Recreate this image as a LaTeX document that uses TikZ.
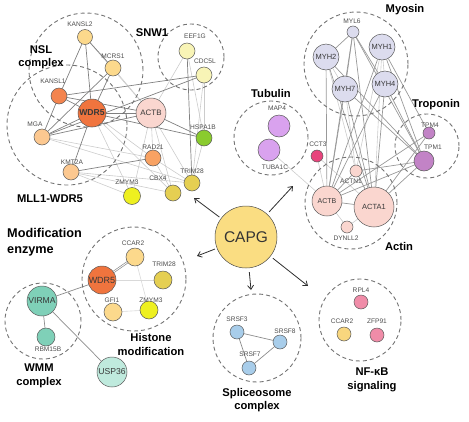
\documentclass[tikz,border=0pt]{standalone}
\usepackage{fontspec}
\setmainfont{Liberation Sans}
\usetikzlibrary{arrows.meta,backgrounds}
\definecolor{cOrgD}{HTML}{F0743E}
\definecolor{cOrg}{HTML}{F3844E}
\definecolor{cPeach}{HTML}{FCC890}
\definecolor{cPaleOr}{HTML}{FCD98C}
\definecolor{cPink}{HTML}{FAD6CF}
\definecolor{cRad}{HTML}{F8A263}
\definecolor{cYel}{HTML}{EEF020}
\definecolor{cOlive}{HTML}{E5CF52}
\definecolor{cGreen}{HTML}{8ACB2E}
\definecolor{cPaleY}{HTML}{F8F4B6}
\definecolor{cLav}{HTML}{DCDCEE}
\definecolor{cTpm}{HTML}{C283C6}
\definecolor{cLilac}{HTML}{D9A2EE}
\definecolor{cCct}{HTML}{E8447C}
\definecolor{cCapg}{HTML}{FADD82}
\definecolor{cTeal}{HTML}{7FD0B8}
\definecolor{cMint}{HTML}{BFEADD}
\definecolor{cBlue}{HTML}{A8CDEA}
\definecolor{cRose}{HTML}{F08CA8}
\definecolor{cCcar}{HTML}{F8D67E}
\tikzset{
  pn/.style={circle, draw=black!65, line width=0.5pt, inner sep=0pt, minimum size=#1},
  grp/.style={circle, draw=black!55, dashed, dash pattern=on 4pt off 3pt, line width=0.9pt, inner sep=0pt, minimum size=#1},
  lbl/.style={font=\fontsize{6.6}{7}\selectfont, text=black!70, inner sep=0pt},
  intxt/.style={font=\fontsize{#1}{#1}\selectfont, text=black!78},
  ttl/.style={font=\bfseries\fontsize{11.2}{13.5}\selectfont, align=center, inner sep=0pt},
  se/.style={draw=black!50, line width=0.7pt},
  le/.style={draw=black!20, line width=0.6pt},
  arr/.style={draw=black!82, line width=0.8pt, -{Straight Barb[length=4pt,width=6pt]}}
}
\begin{document}
\begin{tikzpicture}[x=1pt,y=-1pt]
\useasboundingbox (0,0) rectangle (469,421);
% group circles
\node[grp=114] (g-nsl) at (86,70) {};
\node[grp=120] (g-mll) at (67,125) {};
\node[grp=66] (g-snw) at (191,57) {};
\node[grp=104] (g-myo) at (356,64) {};
\node[grp=64] (g-tro) at (427,146) {};
\node[grp=74] (g-tub) at (271,138) {};
\node[grp=92] (g-act) at (351,203) {};
\node[grp=104] (g-his) at (134,279) {};
\node[grp=76] (g-wmm) at (43,321) {};
\node[grp=88] (g-spl) at (257,338) {};
\node[grp=82] (g-nfk) at (360,320) {};
% titles
\node[ttl] (t-nsl) at (41,57) {NSL\\complex};
\node[ttl] (t-snw) at (152,33) {SNW1};
\node[ttl] (t-mll) at (50,199) {MLL1-WDR5};
\node[ttl, align=left, anchor=west, font=\bfseries\fontsize{12.7}{16}\selectfont] (t-mod) at (7,242) {Modification\\enzyme};
\node[ttl] (t-myo) at (405,10) {Myosin};
\node[ttl] (t-tro) at (436,105) {Troponin};
\node[ttl] (t-tub) at (271,93) {Tubulin};
\node[ttl] (t-act) at (399,246) {Actin};
\node[ttl, font=\bfseries\fontsize{11.2}{14}\selectfont] (t-his) at (151,344) {Histone\\modification};
\node[ttl, font=\bfseries\fontsize{11.2}{14}\selectfont] (t-wmm) at (39,376) {WMM\\complex};
\node[ttl] (t-spl) at (257,400) {Spliceosome\\complex};
\node[ttl] (t-nfk) at (372,380) {NF-κB\\signaling};
% top-left cluster nodes
\node[pn=15, fill=cPaleOr] (kansl2) at (85,37) {};
\node[pn=16, fill=cPaleOr] (mcrs1) at (113,68) {};
\node[pn=16, fill=cOrg] (kansl1) at (59,96) {};
\node[pn=28, fill=cOrgD, intxt=8.6] (wdr5a) at (92,113) {\bfseries WDR5};
\node[pn=30, fill=cPink, intxt=7.9] (actb1) at (151,113) {ACTB};
\node[pn=16, fill=cPeach] (mga) at (42,137) {};
\node[pn=16, fill=cPeach] (kmt2a) at (71,172) {};
\node[pn=17, fill=cYel] (zmym3a) at (132,196) {};
\node[pn=16, fill=cRad] (rad21) at (153,158) {};
\node[pn=16, fill=cOlive] (cbx4) at (173,193) {};
\node[pn=16, fill=cOlive] (trim28a) at (192,183) {};
\node[pn=16, fill=cGreen] (hspa1b) at (204,138) {};
\node[pn=16, fill=cPaleY] (eef1g) at (187,51) {};
\node[pn=16, fill=cPaleY] (cdc5l) at (204,75) {};
\node[lbl] (l-kansl2) at (80,24) {KANSL2};
\node[lbl] (l-mcrs1) at (113,56) {MCRS1};
\node[lbl] (l-kansl1) at (53,81) {KANSL1};
\node[lbl] (l-mga) at (35,124) {MGA};
\node[lbl] (l-kmt2a) at (72,162) {KMT2A};
\node[lbl] (l-zmym3a) at (127,182) {ZMYM3};
\node[lbl] (l-rad21) at (153,147) {RAD21};
\node[lbl] (l-cbx4) at (158,178) {CBX4};
\node[lbl] (l-trim28a) at (192,171) {TRIM28};
\node[lbl] (l-hspa1b) at (203,127) {HSPA1B};
\node[lbl] (l-eef1g) at (195,36) {EEF1G};
\node[lbl] (l-cdc5l) at (205,61) {CDC5L};
% top-right nodes
\node[pn=12, fill=cLav] (myl6) at (353,32) {};
\node[pn=26, fill=cLav, intxt=7.5] (myh1) at (382,47) {MYH1};
\node[pn=26, fill=cLav, intxt=7.5] (myh2) at (326,57) {MYH2};
\node[pn=26, fill=cLav, intxt=7.5] (myh7) at (345,89) {MYH7};
\node[pn=26, fill=cLav, intxt=7.5] (myh4) at (385,84) {MYH4};
\node[pn=12, fill=cTpm] (tpm4) at (429,133) {};
\node[pn=20, fill=cTpm] (tpm1) at (424,161) {};
\node[pn=22, fill=cLilac] (map4) at (279,126) {};
\node[pn=22, fill=cLilac] (tuba1c) at (269,150) {};
\node[pn=12, fill=cCct] (cct3) at (317,156) {};
\node[pn=12, fill=cPink] (actn1) at (356,171) {};
\node[pn=30, fill=cPink, intxt=7] (actb2) at (327,201) {ACTB};
\node[pn=40, fill=cPink, intxt=7.5] (acta1) at (374,207) {ACTA1};
\node[pn=12, fill=cPink] (dynll2) at (347,227) {};
\node[lbl] (l-myl6) at (352,21) {MYL6};
\node[lbl] (l-tpm4) at (430,125) {TPM4};
\node[lbl] (l-tpm1) at (433,147) {TPM1};
\node[lbl] (l-map4) at (277,108) {MAP4};
\node[lbl] (l-tuba1c) at (275,167) {TUBA1C};
\node[lbl] (l-cct3) at (318,144) {CCT3};
\node[lbl] (l-actn1) at (351,181) {ACTN1};
\node[lbl] (l-dynll2) at (346,238) {DYNLL2};
% CAPG
\node[pn=62, fill=cCapg, draw=black!70, font=\fontsize{15.5}{16}\selectfont, text=black!80] (capg) at (246,237) {CAPG};
% bottom-left nodes
\node[pn=18, fill=cPaleOr] (ccar2a) at (135,257) {};
\node[pn=18, fill=cOlive] (trim28b) at (163,280) {};
\node[pn=28, fill=cOrgD, intxt=9] (wdr5b) at (102,280) {WDR5};
\node[pn=18, fill=cPaleOr] (gfi1) at (113,312) {};
\node[pn=18, fill=cYel] (zmym3b) at (149,310) {};
\node[pn=30, fill=cTeal, intxt=8.6] (virma) at (42,301) {VIRMA};
\node[pn=18, fill=cTeal] (rbm15b) at (46,337) {};
\node[pn=30, fill=cMint, intxt=8.6] (usp36) at (112,372) {USP36};
\node[lbl] (l-ccar2a) at (133,243) {CCAR2};
\node[lbl] (l-trim28b) at (164,264) {TRIM28};
\node[lbl] (l-gfi1) at (112,300) {GFI1};
\node[lbl] (l-zmym3b) at (151,300) {ZMYM3};
\node[lbl] (l-rbm15b) at (48,349) {RBM15B};
% spliceosome
\node[pn=14, fill=cBlue] (srsf3) at (237,332) {};
\node[pn=14, fill=cBlue] (srsf8) at (280,342) {};
\node[pn=14, fill=cBlue] (srsf7) at (249,368) {};
\node[lbl] (l-srsf3) at (237,319) {SRSF3};
\node[lbl] (l-srsf8) at (285,331) {SRSF8};
\node[lbl] (l-srsf7) at (250,354) {SRSF7};
% NF-kB
\node[pn=14, fill=cRose] (rpl4) at (361,302) {};
\node[pn=14, fill=cCcar] (ccar2b) at (344,334) {};
\node[pn=14, fill=cRose] (zfp91) at (377,335) {};
\node[lbl] (l-rpl4) at (361,290) {RPL4};
\node[lbl] (l-ccar2b) at (342,321) {CCAR2};
\node[lbl] (l-zfp91) at (377,321) {ZFP91};
% arrow end points
\coordinate (a-tl) at (194,198);
\coordinate (a-ml) at (197,256);
\coordinate (a-tr) at (293,186);
\coordinate (a-dn) at (251,290);
\coordinate (a-dr) at (308,286);
\begin{pgfonlayer}{background}
% light edges top-left
\foreach \a/\b in {actb1/rad21, actb1/trim28a, actb1/cbx4, actb1/zmym3a, wdr5a/rad21, wdr5a/cbx4, kmt2a/cbx4, mga/rad21, rad21/trim28a, hspa1b/trim28a, cdc5l/hspa1b, eef1g/actb1, cdc5l/trim28a, zmym3a/kmt2a, wdr5a/zmym3a, kansl2/actb1, mcrs1/actb1, rad21/cbx4, eef1g/hspa1b, mga/trim28a, kmt2a/trim28a}
  \draw[le] (\a) -- (\b);
% strong edges top-left
\foreach \a/\b in {kansl2/kansl1, kansl2/wdr5a, kansl2/mcrs1, mcrs1/wdr5a, mcrs1/mga, kansl1/mga, kansl1/wdr5a, wdr5a/mga, wdr5a/kmt2a, mga/actb1, kansl1/actb1, kansl1/cdc5l, mga/cdc5l, wdr5a/actb1, wdr5a/hspa1b, actb1/hspa1b, kmt2a/rad21, eef1g/trim28a}
  \draw[se] (\a) -- (\b);
% light edges top-right
\foreach \a/\b in {cct3/actb2, tuba1c/actb2, cct3/acta1, myh1/acta1, myh2/myh7, myh1/myh4, dynll2/actb2, dynll2/acta1, myh1/actn1, myh2/actn1, myh7/actn1}
  \draw[le] (\a) -- (\b);
% strong edges top-right
\foreach \a/\b in {myl6/myh2, myl6/myh7, myl6/myh4, myl6/acta1, myl6/tpm1, myl6/actb2, myh2/actb2, myh2/acta1, myh2/tpm1, myh1/tpm1, myh1/actb2, myh1/tpm4, myh7/actb2, myh7/acta1, myh7/tpm1, myh4/actb2, myh4/acta1, myh4/tpm1, tpm1/actb2, tpm1/acta1, tpm4/actb2, tpm4/acta1, tpm1/actn1, actn1/actb2, actn1/acta1, actb2/acta1}
  \draw[se, draw=black!40] (\a) -- (\b);
% bottom-left edges
\draw[se, double=white, double distance=0.8pt, draw=black!45] (wdr5b) -- (ccar2a);
\foreach \a/\b in {wdr5b/virma, virma/rbm15b, virma/usp36}
  \draw[se, draw=black!45] (\a) -- (\b);
\foreach \a/\b in {ccar2a/zmym3b, gfi1/zmym3b, wdr5b/trim28b}
  \draw[le, draw=black!15] (\a) -- (\b);
% spliceosome edges
\foreach \a/\b in {srsf3/srsf8, srsf3/srsf7, srsf7/srsf8}
  \draw[se, draw=black!45] (\a) -- (\b);
\end{pgfonlayer}
% arrows
\draw[arr, shorten <=2pt] (capg) -- (a-tl);
\draw[arr, shorten <=2pt] (capg) -- (a-ml);
\draw[arr, shorten <=3pt] (capg) -- (a-tr);
\draw[arr, shorten <=4pt] (capg) -- (a-dn);
\draw[arr, shorten <=3pt] (capg) -- (a-dr);
\end{tikzpicture}
\end{document}
